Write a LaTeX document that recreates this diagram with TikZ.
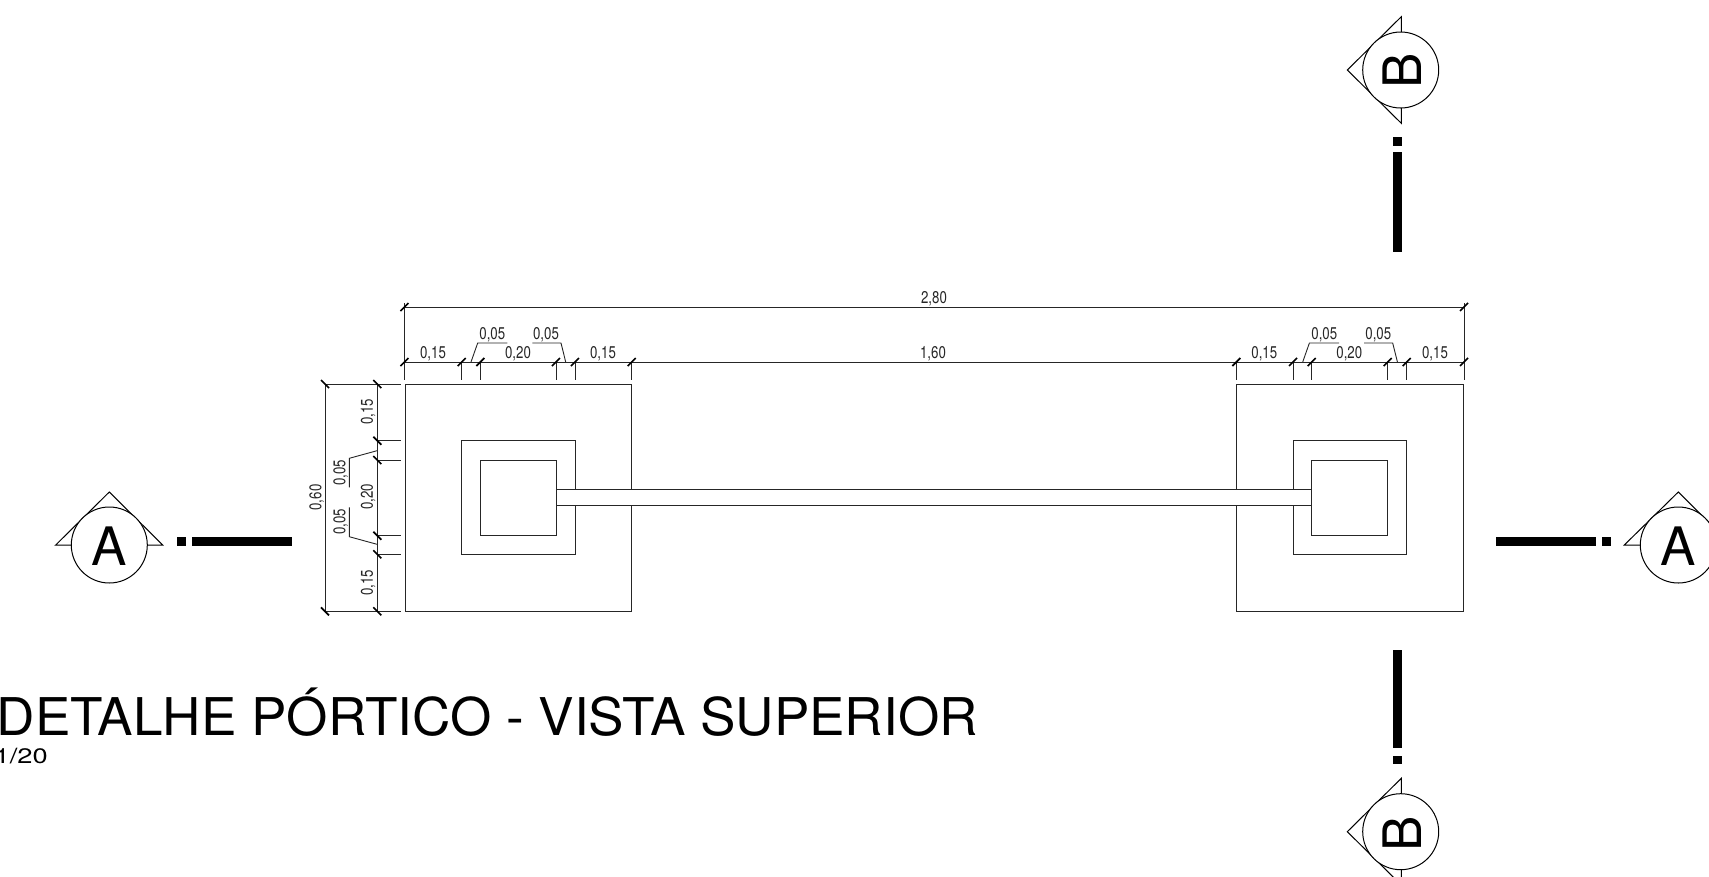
\documentclass[tikz,border=0pt]{standalone}
\usepackage{fontspec}
\setmainfont{TeX Gyre Heros}
\tikzset{
  ln/.style={draw=black!85,line width=0.9pt},
  tk/.style={draw=black,line width=1.7pt},
  dimtxt/.style={inner sep=0pt,font=\fontsize{17}{17}\selectfont,xscale=0.78,text=black!85},
  dimv/.style={inner sep=0pt,font=\fontsize{17}{17}\selectfont,rotate=90,xscale=0.78,text=black!85},
  barfill/.style={fill=black,draw=none},
  lett/.style={inner sep=0pt,font=\fontsize{53}{53}\selectfont},
  secmark/.style={draw=black,line width=1pt,fill=white}
}
\newcommand{\htick}[2]{\draw[tk] (#1-4,#2+4) -- (#1+4,#2-4);}
\newcommand{\vtick}[2]{\draw[tk] (#1-4,#2-4) -- (#1+4,#2+4);}
\begin{document}
\begin{tikzpicture}[x=1pt,y=-1pt]
\useasboundingbox (0,0) rectangle (1709,876);
\clip (0,0) rectangle (1709,876);
% footings, pedestals, columns
\foreach \o in {0,831.5}{
  \draw[ln] (405+\o,384) rectangle (631.7+\o,611.3);
  \draw[ln] (461.7+\o,440.7) rectangle (575+\o,554.3);
  \draw[ln] (480.3+\o,460) rectangle (556.3+\o,535.7);
}
% beam over the footings
\fill[white] (556.8,489.5) rectangle (1311.3,505.7);
\draw[ln] (556.3,489.5) -- (1311.8,489.5);
\draw[ln] (556.3,505.7) -- (1311.8,505.7);
% top dimensions
\draw[ln] (404,307) -- (1464,307);
\draw[ln] (404,362) -- (1464,362);
\draw[ln] (404.5,303) -- (404.5,380);
\draw[ln] (1464,303) -- (1464,380);
\foreach \x in {461.7,480.3,556,575,631.7,1236.3,1293,1311.7,1387.7,1406.7}{
  \draw[ln] (\x,362) -- (\x,380);
  \htick{\x}{362}
}
\htick{404.5}{307}\htick{404.5}{362}\htick{1464}{307}\htick{1464}{362}
\foreach \o in {0,831.7}{
  \draw[ln] (471+\o,362) -- (477.7+\o,343) -- (507.3+\o,343);
  \draw[ln] (565.7+\o,362) -- (561+\o,343) -- (532.3+\o,343);
}
\node[dimtxt] (t280) at (934,299) {2,80};
\node[dimtxt] (t160) at (933,354) {1,60};
\node[dimtxt] (a1) at (433,354) {0,15};
\node[dimtxt] (a2) at (518,354) {0,20};
\node[dimtxt] (a3) at (603,354) {0,15};
\node[dimtxt] (a4) at (492.3,334.5) {0,05};
\node[dimtxt] (a5) at (546,334.5) {0,05};
\node[dimtxt] (b1) at (1264.3,354) {0,15};
\node[dimtxt] (b2) at (1349.3,354) {0,20};
\node[dimtxt] (b3) at (1435,354) {0,15};
\node[dimtxt] (b4) at (1324.3,334.5) {0,05};
\node[dimtxt] (b5) at (1378.3,334.5) {0,05};
% left dimensions
\draw[ln] (325,384) -- (325,611.3);
\draw[ln] (377.3,384) -- (377.3,611.3);
\draw[ln] (325,384) -- (401,384);
\draw[ln] (325,611.3) -- (401,611.3);
\foreach \y in {440.7,460,535.7,554.3}{
  \draw[ln] (377.3,\y) -- (401,\y);
  \vtick{377.3}{\y}
}
\vtick{325}{384}\vtick{377.3}{384}\vtick{325}{611.3}\vtick{377.3}{611.3}
\draw[ln] (377,450.7) -- (349.3,458.3) -- (349.3,487.3);
\draw[ln] (377,544.3) -- (349.3,536.7) -- (349.3,507.3);
\node[dimv] (v1) at (368,412) {0,15};
\node[dimv] (v2) at (340.5,473) {0,05};
\node[dimv] (v3) at (368,497) {0,20};
\node[dimv] (v4) at (340.5,522) {0,05};
\node[dimv] (v5) at (316.5,497.5) {0,60};
\node[dimv] (v6) at (368,582.7) {0,15};
% section A left
\draw[secmark] (109.3,492) -- (162.7,545) -- (55.7,545) -- cycle;
\draw[secmark] (109.3,545) circle (38);
\node[lett] (al) at (109.3,546) {A};
\fill[barfill] (176.7,537.3) rectangle (185.7,546);
\fill[barfill] (191.7,537.3) rectangle (291.7,546);
% section A right
\draw[secmark] (1678.3,492) -- (1731.3,545) -- (1624.3,545) -- cycle;
\draw[secmark] (1678.3,545) circle (38);
\node[lett] (ar) at (1678.3,546) {A};
\fill[barfill] (1496,537.3) rectangle (1596,546);
\fill[barfill] (1602.3,537.3) rectangle (1611,546);
% section B top
\draw[secmark] (1347.3,70) -- (1401.3,16.7) -- (1401.3,123.3) -- cycle;
\draw[secmark] (1400.7,70) circle (38);
\node[lett,rotate=90] (bt) at (1401.7,71) {B};
\fill[barfill] (1392.7,137.3) rectangle (1401.7,146.3);
\fill[barfill] (1392.7,152.3) rectangle (1401.7,251.7);
% section B bottom
\draw[secmark] (1347.3,831.7) -- (1401.3,778.3) -- (1401.3,885) -- cycle;
\draw[secmark] (1400.7,831.7) circle (38);
\node[lett,rotate=90] (bb) at (1401.7,834) {B};
\fill[barfill] (1392.7,650) rectangle (1401.7,748.3);
\fill[barfill] (1392.7,756) rectangle (1401.7,764.3);
% title
\node[inner sep=0pt,anchor=base east,font=\fontsize{52}{52}\selectfont,xscale=1.0215] (title) at (978,735) {DETALHE PÓRTICO - VISTA SUPERIOR};
\node[inner sep=0pt,anchor=base east,font=\fontsize{21}{21}\selectfont,xscale=1.3] (scale) at (48,763) {1/20};
\end{tikzpicture}
\end{document}
